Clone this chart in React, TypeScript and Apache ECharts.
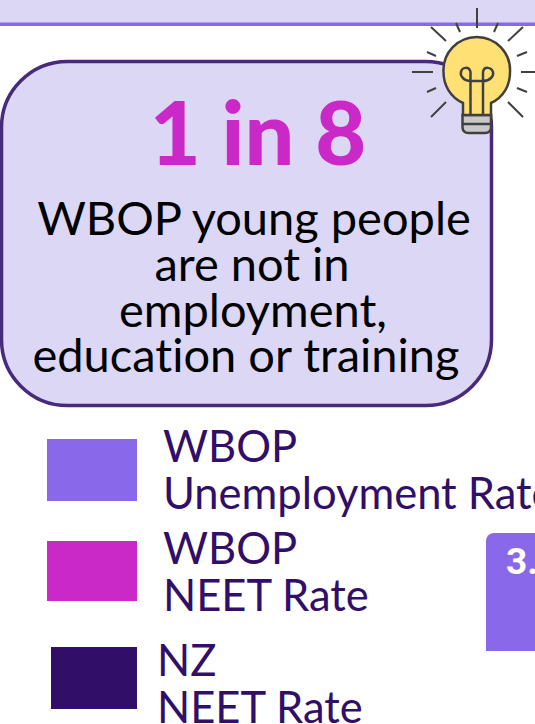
import React, { useEffect, useRef } from "react";
import * as echarts from "echarts";

const barCategories = ["WBOP Unemployment Rate"];
const barValues = [3.7];
const barLabels = ["3.7%"];
const headline = "1 in 8";
const bodyLines = ["WBOP young people", "are not in", "employment,", "education or training"];
const legendFirstLines = ["WBOP", "WBOP", "NZ"];
const legendSecondLines = ["Unemployment Rate", "NEET Rate", "NEET Rate"];

const PURPLE = "#8a68ea";
const MAGENTA = "#cb28c8";
const DARK = "#310e68";
const LILAC = "#dcd7f5";
const GREY = "#404040";

echarts.graphic.registerShape(
  "bulbBody",
  echarts.graphic.extendPath(
    "M463 115 L463 103 C450 97 443.5 85 443.5 72 A33.3 33.3 0 1 1 510 72 C510 85 504 97 491 103 L491 115 Z",
    {}
  )
);
echarts.graphic.registerShape(
  "bulbBase",
  echarts.graphic.extendPath(
    "M462.5 115 L491 115 L491 127 C491 131 489 133 485 133 L468.5 133 C464.5 133 462.5 131 462.5 127 Z",
    {}
  )
);
echarts.graphic.registerShape(
  "bulbFilament",
  echarts.graphic.extendPath(
    "M470.5 115 L470.5 81 C463 81 460 75 461 72 C462 67 469 66 470.5 72 L470.5 81 L483 81 L483 72 C484 66 491.5 67 493 72 C494 76 490 81 483 81 L483 115",
    {}
  )
);

const rays = [
  [477, 8, 477, 28],
  [456, 23, 460, 32],
  [498, 23, 494, 32],
  [431, 27, 446, 41],
  [523, 27, 508, 41],
  [427, 52, 436, 56],
  [527, 52, 517, 56],
  [412, 72, 433, 72],
  [521, 72, 536, 72],
  [427, 92, 436, 88],
  [527, 92, 517, 88],
  [431, 117, 446, 102],
  [523, 117, 508, 102],
];

export default function App() {
  const ref = useRef<HTMLDivElement>(null);
  useEffect(() => {
    document.body.style.margin = "0";
    const css = document.createElement("style");
    css.textContent = "svg text { font-variant-ligatures: none !important; }";
    document.head.appendChild(css);
    const chart = echarts.init(ref.current!, undefined, { renderer: "svg" });
    const legendRects = [
      { x: 47, y: 439, w: 90, h: 62, c: PURPLE, tx: 163, ty1: 445, ty2: 492 },
      { x: 47, y: 541, w: 90, h: 60, c: MAGENTA, tx: 163, ty1: 547, ty2: 594 },
      { x: 51, y: 647, w: 86, h: 62, c: DARK, tx: 157, ty1: 659, ty2: 706 },
    ];
    const bodyY = [217, 263, 309, 354];
    const bodyX = [254, 252, 253, 246];
    chart.setOption({
      animation: false,
      backgroundColor: "#ffffff",
      grid: { left: 486, top: 533, width: 118, height: 118, containLabel: false },
      xAxis: { type: "category", data: barCategories, show: false },
      yAxis: { type: "value", min: 0, max: barValues[0], show: false },
      series: [
        {
          type: "bar",
          data: barValues,
          barWidth: "100%",
          itemStyle: { color: PURPLE, borderRadius: [8, 0, 0, 0] },
          label: {
            show: true,
            position: [20, 10],
            align: "left",
            verticalAlign: "top",
            formatter: () => barLabels[0],
            color: "#ffffff",
            fontFamily: "Roboto",
            fontWeight: "bold",
            fontSize: 37,
          },
        },
      ],
      graphic: [
        { type: "rect", z: 1, shape: { x: 0, y: 0, width: 535, height: 23 }, style: { fill: LILAC } },
        { type: "rect", z: 2, shape: { x: 0, y: 22.5, width: 535, height: 3.5 }, style: { fill: PURPLE } },
        {
          type: "rect",
          z: 3,
          shape: { x: 1.5, y: 61.5, width: 490, height: 344, r: 66 },
          style: { fill: LILAC, stroke: "#472a7c", lineWidth: 3.5 },
        },
        {
          type: "text",
          z: 5,
          style: {
            x: 258,
            y: 131,
            text: headline,
            fill: MAGENTA,
            font: "900 88px Lato",
            textAlign: "center",
            textVerticalAlign: "middle",
          },
        },
        ...bodyLines.map((t, i) => ({
          type: "text",
          z: 5,
          style: {
            x: bodyX[i],
            y: bodyY[i],
            text: t,
            fill: "#000000",
            font: "47px Lato",
            textAlign: "center",
            textVerticalAlign: "middle",
          },
        })),
        ...legendRects.flatMap((r, i) => [
          { type: "rect", z: 5, shape: { x: r.x, y: r.y, width: r.w, height: r.h }, style: { fill: r.c } },
          {
            type: "text",
            z: 5,
            style: {
              x: r.tx,
              y: r.ty1,
              text: legendFirstLines[i],
              fill: DARK,
              font: "43.5px Lato",
              textAlign: "left",
              textVerticalAlign: "middle",
            },
          },
          {
            type: "text",
            z: 5,
            style: {
              x: r.tx,
              y: r.ty2,
              text: legendSecondLines[i],
              fill: DARK,
              font: "43.5px Lato",
              textAlign: "left",
              textVerticalAlign: "middle",
            },
          },
        ]),
        ...rays.map((p) => ({
          type: "line",
          z: 6,
          shape: { x1: p[0], y1: p[1], x2: p[2], y2: p[3] },
          style: { stroke: GREY, lineWidth: 2 },
        })),
        { type: "bulbBase", z: 6, style: { fill: "#c9c9c9", stroke: GREY, lineWidth: 2.5 } },
        { type: "bulbBody", z: 7, style: { fill: "#ffe074", stroke: GREY, lineWidth: 2.5 } },
        { type: "bulbFilament", z: 8, style: { fill: "none", stroke: GREY, lineWidth: 2.5 } },
        { type: "line", z: 8, shape: { x1: 463, y1: 124, x2: 491, y2: 124 }, style: { stroke: GREY, lineWidth: 2.5 } },
      ],
    });
    return () => {
      chart.dispose();
      css.remove();
    };
  }, []);
  return <div ref={ref} style={{ width: 535, height: 724, overflow: "hidden" }} />;
}
